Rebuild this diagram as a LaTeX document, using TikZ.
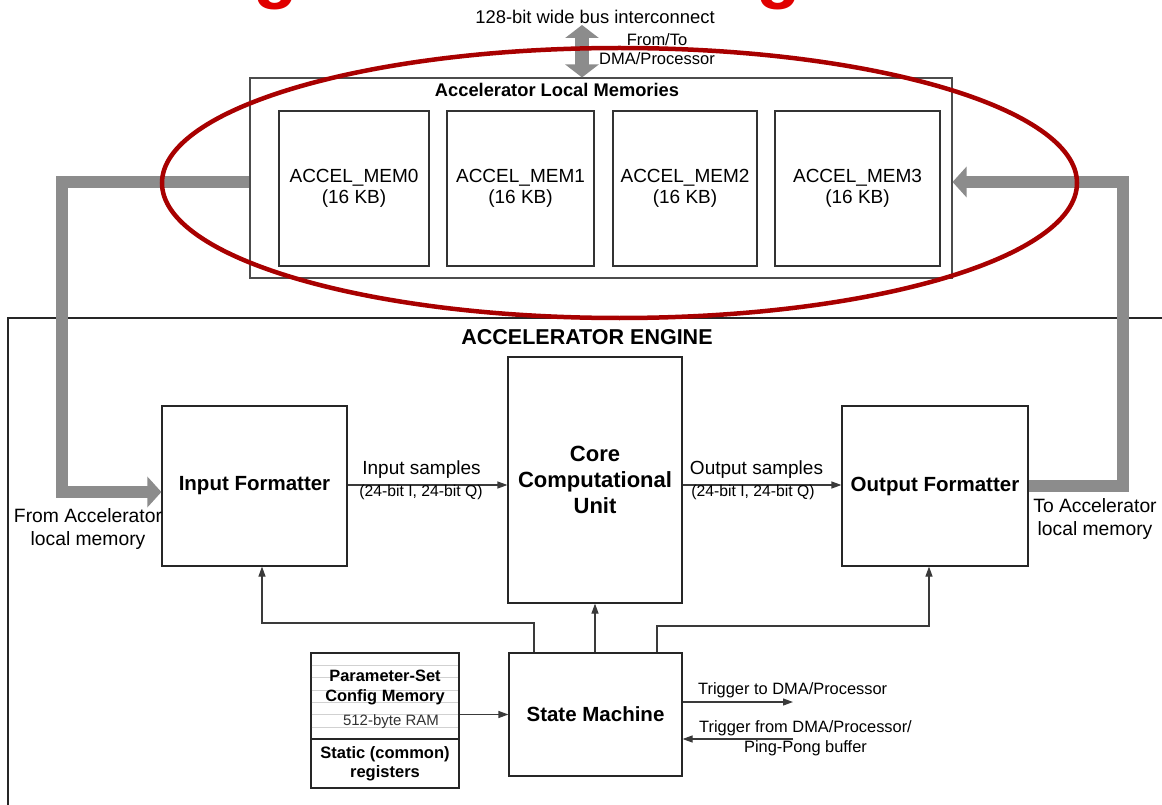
\documentclass[tikz,border=0pt]{standalone}
\usepackage{fontspec}
\setmainfont{Liberation Sans}
\usetikzlibrary{arrows.meta}
\definecolor{busgray}{HTML}{8C8C8C}
\definecolor{ellred}{HTML}{A80000}
\definecolor{titlered}{HTML}{E00000}
\definecolor{linegray}{HTML}{3A3A3A}
\tikzset{
  blk/.style={draw=black!85, line width=1.2pt, fill=white, inner sep=0pt},
  memblk/.style={draw=black!80, line width=1.1pt, fill=white, inner sep=0pt, align=center,
                 font=\fontsize{19}{21}\selectfont},
  sig/.style={draw=linegray, line width=1.2pt, -{Triangle[width=7pt,length=10pt]}},
  bus/.style={draw=busgray, line width=12pt, line join=miter, -{Triangle[width=30pt,length=14pt]}},
  lbl/.style={inner sep=0pt, align=center},
  boldlbl/.style={inner sep=0pt, align=center, font=\bfseries\fontsize{20.5}{26}\selectfont},
}
\begin{document}
\begin{tikzpicture}[x=1pt,y=-1pt]
\useasboundingbox (0,0) rectangle (1162,805);
\fill[white] (0,0) rectangle (1162,805);

% clipped title fragment
\begin{scope}
\clip (0,0) rectangle (1162,805);
\node[anchor=base west, inner sep=0pt, text=titlered, font=\bfseries\fontsize{73}{80}\selectfont] (title) at (-262,-5) {Accelerator Engine Block Diagram};
\end{scope}

% top bus label
\node[lbl, font=\fontsize{18.4}{20}\selectfont] (buslbl) at (595,17) {128-bit wide bus interconnect};
\node[lbl, font=\fontsize{16.5}{19}\selectfont] (fromto) at (657,49) {From/To\\DMA/Processor};

% Local memories
\node[draw=black!70, line width=1.1pt, fill=white, minimum width=702pt, minimum height=200pt, inner sep=0pt] (lm) at (601,178) {};
\node[lbl, font=\bfseries\fontsize{18.3}{20}\selectfont] (lmt) at (557,90) {Accelerator Local Memories};
\node[memblk, minimum width=150pt, minimum height=155pt] (m0) at (354,188.5) {ACCEL\_MEM0\\(16 KB)};
\node[memblk, minimum width=147pt, minimum height=155pt] (m1) at (520.5,188.5) {ACCEL\_MEM1\\(16 KB)};
\node[memblk, minimum width=144pt, minimum height=155pt] (m2) at (685,188.5) {ACCEL\_MEM2\\(16 KB)};
\node[memblk, minimum width=165pt, minimum height=155pt] (m3) at (857.5,188.5) {ACCEL\_MEM3\\(16 KB)};

% bus double arrow
\coordinate (bustop) at (582,25);
\draw[draw=busgray, line width=14pt, {Triangle[width=33pt,length=13pt]}-{Triangle[width=33pt,length=13pt]}] (bustop) -- (bustop |- lm.north);

% Engine frame
\draw[draw=black!85, line width=1.2pt] (8,805) -- (8,318) -- (1162,318);
\node[lbl, font=\bfseries\fontsize{21.5}{24}\selectfont] (eng) at (587,337) {ACCELERATOR ENGINE};

% main blocks
\node[blk, boldlbl, minimum width=185pt, minimum height=160pt] (inf) at (254.5,486) {Input Formatter};
\node[blk, font=\bfseries\fontsize{22}{26}\selectfont, align=center, minimum width=174pt, minimum height=246pt] (core) at (595,480) {Core\\Computational\\Unit};
\node[blk, boldlbl, minimum width=186pt, minimum height=160pt] (outf) at (935,486) {Output Formatter};
\node[blk, boldlbl, minimum width=173pt, minimum height=123pt] (sm) at (595.5,714.5) {State Machine};

% parameter memory
\node[blk, minimum width=148pt, minimum height=86pt] (pm) at (385,696) {};
\foreach \yy in {665.5,677.8,690.1,702.4,714.7,727}
  \draw[draw=black!18, line width=0.9pt] (311.6,\yy) -- (458.4,\yy);
\node[blk, minimum width=148pt, minimum height=49pt] (st) at (385,763.5) {};
\node[lbl, font=\bfseries\fontsize{16.4}{20}\selectfont] (pmt) at (385,688) {Parameter-Set\\Config Memory};
\node[lbl, text=black!80, font=\fontsize{15}{17}\selectfont] (pmr) at (391,722) {512-byte RAM};
\node[lbl, font=\bfseries\fontsize{16.5}{19}\selectfont] (stt) at (385,763.5) {Static (common)\\registers};

% data connections
\draw[sig] (inf.east |- 0,485) -- (core.west |- 0,485);
\draw[sig] (core.east |- 0,485) -- (outf.west |- 0,485);
\node[lbl, font=\fontsize{19}{21}\selectfont] (ins) at (421.5,470) {Input samples};
\node[lbl, font=\fontsize{15.7}{18}\selectfont] (insb) at (421,492) {(24-bit I, 24-bit Q)};
\node[lbl, font=\fontsize{19}{21}\selectfont] (outs) at (756.5,470) {Output samples};
\node[lbl, font=\fontsize{15.7}{18}\selectfont] (outsb) at (753,492) {(24-bit I, 24-bit Q)};

% control connections
\coordinate (tl) at (534,623);
\coordinate (tr) at (657,626);
\draw[sig] (sm.north -| tl) -- (tl) -| ([xshift=7.5pt]inf.south);
\draw[sig] (sm.north -| core.south) -- (core.south);
\draw[sig] (sm.north -| tr) -- (tr) -| ([xshift=-6pt]outf.south);
\draw[sig] (sm.west -| pm.east) -- (sm.west);

\coordinate (t1) at (793,702);
\coordinate (t2) at (793,739);
\draw[sig] (sm.east |- t1) -- (t1);
\draw[sig] (t2) -- (sm.east |- t2);
\node[lbl, anchor=west, font=\fontsize{16.4}{20}\selectfont] (trig1) at (698,690) {Trigger to DMA/Processor};
\node[lbl, font=\fontsize{16.4}{20}\selectfont] (trig2) at (805.5,738) {Trigger from DMA/Processor/\\Ping-Pong buffer};

% wide buses
\draw[bus] ([yshift=-4pt]lm.west) -- (62,182) -- (62,492) -- (inf.west |- 0,492);
\draw[bus] (outf.east) -- (1123,486) -- (1123,182) -- ([yshift=-4pt]lm.east);
\node[lbl, font=\fontsize{19.3}{22.5}\selectfont] (froml) at (88,529) {From Accelerator\\local memory};
\node[lbl, font=\fontsize{19.3}{22.5}\selectfont] (tol) at (1095,519) {To Accelerator\\local memory};

% red ellipse highlight
\draw[draw=ellred, line width=4.5pt] (619.5,183) ellipse [x radius=457.5, y radius=135];
\end{tikzpicture}
\end{document}
